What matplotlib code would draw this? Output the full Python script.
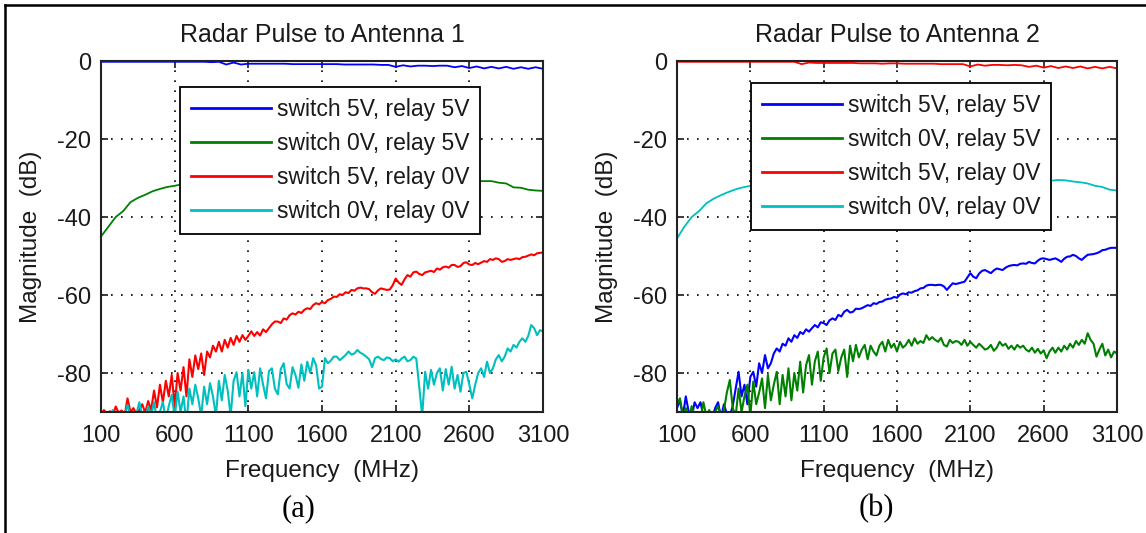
import numpy as np
import matplotlib
matplotlib.use("Agg")
import matplotlib.pyplot as plt
from matplotlib.lines import Line2D

plt.rcParams["font.family"] = ["Liberation Sans", "DejaVu Sans"]
plt.rcParams["axes.unicode_minus"] = False

# ---------------- data ----------------
freq_fine = np.arange(100, 3101, 20)     # MHz, sampling for noisy traces
freq_coarse = np.arange(100, 3101, 50)   # MHz, sampling for smooth traces

x_ticks = [100, 600, 1100, 1600, 2100, 2600, 3100]
x_tick_labels = ["100", "600", "1100", "1600", "2100", "2600", "3100"]
y_ticks = [-80, -60, -40, -20, 0]
y_tick_labels = ["-80", "-60", "-40", "-20", "0"]

legend_labels = ["switch 5V, relay 5V", "switch 0V, relay 5V",
                 "switch 5V, relay 0V", "switch 0V, relay 0V"]
titles = ["Radar Pulse to Antenna 1", "Radar Pulse to Antenna 2"]
panel_tags = ["(a)", "(b)"]

# ---- panel (a): Radar pulse to antenna 1 ----
a_s5_r5 = [  # coarse
    -0.2, -0.2, -0.2, -0.2, -0.2, -0.2, -0.2, -0.2, -0.2, -0.2,
    -0.2, -0.2, -0.2, -0.2, -0.2, -0.3, -0.2, -0.9, -0.4, -0.9,
    -0.7, -0.7, -0.7, -0.7, -0.7, -0.7, -0.8, -0.8, -0.8, -0.8,
    -0.8, -0.8, -0.8, -0.9, -0.9, -0.9, -0.9, -0.9, -1.0, -1.0,
    -1.5, -1.1, -1.4, -1.2, -1.2, -1.3, -1.2, -1.2, -1.6, -1.3,
    -1.8, -1.4, -1.9, -1.5, -1.9, -1.5, -2.0, -1.6, -2.0, -1.6,
    -2.0]
a_s0_r5 = [  # coarse
    -45.0, -42.5, -40.0, -38.5, -36.2, -35.1, -34.3, -33.4, -32.8, -32.3,
    -32.0, -31.6, -31.3, -31.0, -30.8, -30.6, -30.4, -30.2, -30.0, -29.9,
    -29.8, -29.7, -29.6, -29.5, -29.4, -29.4, -29.3, -29.3, -29.2, -29.2,
    -29.2, -29.2, -29.2, -29.2, -29.3, -29.3, -29.4, -29.4, -29.5, -29.6,
    -29.7, -29.8, -29.9, -30.0, -30.1, -30.2, -30.3, -30.4, -30.5, -30.6,
    -30.7, -30.8, -30.8, -30.8, -31.2, -31.4, -32.4, -32.5, -33.0, -33.2,
    -33.3]
a_s5_r0 = [  # fine
    -90.5, -89.5, -90.5, -89.8, -91.0, -88.6, -90.2, -89.6, -91.0, -86.5,
    -90.0, -89.0, -90.5, -89.5, -88.0, -90.2, -87.2, -89.5, -84.5, -88.8,
    -83.0, -87.5, -82.0, -86.0, -80.5, -88.5, -80.0, -84.5, -78.5, -86.0,
    -76.5, -81.0, -75.5, -79.0, -75.0, -80.5, -74.5, -76.0, -73.0, -74.5,
    -72.0, -74.5, -71.5, -73.5, -71.0, -72.8, -70.5, -72.0, -70.3, -71.5,
    -70.5, -69.3, -70.5, -69.5, -70.4, -68.8, -69.5, -68.5, -67.5, -66.8,
    -66.8, -67.2, -66.0, -66.3, -65.2, -64.7, -65.0, -64.3, -64.6, -63.8,
    -63.4, -63.6, -62.6, -62.1, -62.4, -61.8, -62.1, -61.3, -61.0, -60.4,
    -60.5, -59.8, -60.0, -59.3, -59.5, -58.7, -58.9, -58.3, -58.1, -58.3,
    -58.3, -58.5, -59.3, -59.7, -58.8, -58.3, -58.5, -58.7, -58.6, -57.5,
    -55.8, -56.8, -57.4, -56.0, -54.9, -55.3, -54.2, -54.0, -54.6, -54.9,
    -54.2, -54.0, -53.8, -54.1, -53.2, -53.5, -52.9, -52.7, -53.0, -52.3,
    -52.3, -52.8, -52.6, -51.8, -51.6, -52.2, -52.3, -51.8, -52.1, -51.7,
    -51.3, -51.5, -50.8, -51.0, -50.6, -50.8, -51.5, -51.3, -50.8, -51.0,
    -50.8, -50.6, -50.8, -50.3, -50.2, -49.9, -49.6, -49.8, -49.3, -49.2,
    -49.1]
a_s0_r0 = [  # fine
    -91.0, -92.0, -90.5, -91.5, -89.5, -91.0, -92.0, -90.5, -91.0, -88.2,
    -91.0, -92.0, -90.5, -87.5, -91.0, -92.0, -88.5, -91.0, -87.5, -92.0,
    -90.0, -87.4, -92.0, -88.5, -85.6, -91.5, -84.8, -90.0, -86.0, -93.0,
    -84.0, -88.0, -83.0, -86.5, -91.0, -83.5, -88.0, -82.6, -86.0, -91.0,
    -82.0, -87.0, -80.5, -84.5, -91.0, -82.0, -79.8, -86.0, -80.0, -88.5,
    -79.2, -84.0, -79.8, -86.0, -78.8, -83.0, -86.5, -79.5, -78.8, -84.0,
    -85.5, -79.0, -77.5, -82.8, -84.0, -78.5, -80.5, -83.8, -77.8, -82.0,
    -77.1, -80.0, -76.2, -78.0, -84.0, -83.5, -76.2, -77.5, -76.8, -75.8,
    -75.8, -76.7, -76.1, -75.4, -74.5, -75.3, -75.0, -74.1, -74.8, -75.2,
    -75.8, -76.5, -78.5, -76.2, -75.8, -76.4, -76.7, -76.0, -76.2, -77.0,
    -76.5, -77.1, -76.3, -75.8, -77.0, -76.7, -75.8, -76.3, -83.5, -91.0,
    -79.7, -84.0, -79.2, -83.0, -80.0, -78.8, -84.5, -79.0, -83.0, -78.4,
    -84.0, -80.5, -84.8, -80.0, -79.7, -83.0, -86.5, -83.0, -80.0, -78.8,
    -81.0, -77.1, -80.0, -78.8, -76.5, -75.4, -77.0, -75.8, -73.7, -74.5,
    -72.8, -73.5, -72.0, -71.1, -72.0, -70.5, -67.7, -68.5, -70.3, -69.0,
    -69.4]

# ---- panel (b): Radar pulse to antenna 2 ----
b_s5_r5 = [  # fine
    -89.0, -87.0, -91.0, -86.0, -90.0, -91.5, -87.5, -89.0, -87.5, -91.0,
    -92.0, -90.0, -91.5, -89.0, -87.5, -91.5, -88.0, -90.5, -91.0, -88.5,
    -84.0, -79.7, -86.0, -83.0, -88.0, -81.0, -79.7, -83.5, -77.5, -80.0,
    -75.4, -78.8, -77.5, -75.0, -73.7, -74.5, -72.5, -73.0, -71.1, -72.0,
    -70.3, -71.0, -69.5, -70.0, -68.8, -69.4, -68.5, -67.7, -68.3, -67.0,
    -67.2, -67.7, -66.5, -66.0, -66.4, -65.1, -65.5, -64.3, -63.8, -64.5,
    -64.3, -63.5, -63.6, -63.4, -63.0, -62.6, -62.8, -62.1, -62.3, -61.8,
    -61.7, -61.2, -61.0, -60.9, -60.5, -60.7, -59.9, -59.6, -59.8, -59.3,
    -59.4, -59.0, -58.8, -58.3, -58.2, -57.6, -57.4, -57.4, -57.5, -57.4,
    -57.4, -57.8, -58.7, -57.8, -57.0, -57.2, -57.0, -56.8, -56.6, -55.5,
    -54.4, -55.3, -55.7, -54.5, -53.8, -53.6, -54.0, -54.4, -53.7, -53.2,
    -53.4, -53.6, -53.0, -52.6, -52.4, -52.3, -52.4, -52.0, -51.9, -52.0,
    -51.5, -51.8, -51.9, -51.2, -50.7, -50.6, -50.8, -51.0, -50.8, -50.6,
    -51.0, -51.5, -50.7, -50.2, -50.1, -49.7, -50.0, -50.6, -51.0, -50.3,
    -49.7, -49.6, -49.5, -49.3, -49.0, -48.5, -48.4, -48.1, -47.9, -47.9,
    -47.9]
b_s0_r5 = [  # fine
    -88.0, -86.5, -91.0, -89.0, -92.0, -88.5, -91.0, -90.5, -92.0, -87.5,
    -91.0, -89.5, -92.0, -90.0, -88.5, -91.0, -89.5, -85.0, -81.8, -89.0,
    -91.0, -84.0, -90.0, -86.0, -83.0, -91.0, -82.2, -88.0, -85.0, -81.4,
    -89.0, -80.5, -87.0, -83.0, -79.7, -88.0, -80.5, -86.0, -78.8, -87.0,
    -80.0, -84.5, -77.1, -85.0, -78.0, -75.4, -83.0, -77.0, -74.5, -82.0,
    -76.0, -73.7, -80.0, -75.0, -74.0, -79.5, -76.0, -74.0, -81.0, -73.0,
    -77.0, -72.8, -76.0, -74.0, -72.8, -76.5, -73.0, -74.5, -75.5, -73.0,
    -72.0, -74.5, -71.5, -73.5, -72.5, -74.5, -72.0, -73.5, -72.8, -71.5,
    -73.0, -71.1, -72.5, -71.8, -72.3, -70.3, -71.5, -70.8, -71.5, -72.0,
    -71.0, -72.8, -73.2, -71.5, -72.3, -71.8, -72.0, -72.8, -71.5, -73.0,
    -72.0, -72.8, -73.5, -72.5, -73.2, -74.0, -73.7, -72.8, -74.3, -73.5,
    -72.0, -73.0, -72.5, -73.8, -73.0, -74.0, -72.8, -73.5, -73.0, -74.0,
    -74.5, -73.5, -74.8, -73.8, -75.0, -74.2, -76.2, -74.5, -73.5, -74.8,
    -73.5, -74.5, -73.0, -74.0, -72.5, -73.5, -71.8, -72.8, -71.5, -72.5,
    -69.8, -71.5, -72.5, -75.8, -74.0, -72.5, -75.5, -74.0, -76.0, -74.5,
    -75.0]
b_s5_r0 = [  # coarse
    -0.2, -0.2, -0.2, -0.2, -0.2, -0.2, -0.2, -0.2, -0.2, -0.2,
    -0.2, -0.2, -0.2, -0.2, -0.2, -0.2, -0.2, -0.8, -0.4, -0.5,
    -0.5, -0.5, -0.5, -0.5, -0.5, -0.6, -0.6, -0.6, -0.7, -0.6,
    -0.6, -0.7, -0.7, -0.7, -0.7, -0.7, -0.8, -0.8, -0.8, -0.8,
    -1.4, -0.9, -1.2, -1.0, -1.0, -1.1, -1.0, -1.1, -1.5, -1.2,
    -1.7, -1.3, -1.8, -1.4, -1.8, -1.4, -1.9, -1.5, -1.9, -1.5,
    -1.9]
b_s0_r0 = [  # coarse
    -45.5, -42.5, -40.0, -38.5, -36.5, -35.3, -34.4, -33.6, -32.9, -32.4,
    -32.0, -31.6, -31.3, -31.0, -30.8, -30.6, -30.4, -30.2, -30.0, -29.9,
    -29.8, -29.7, -29.6, -29.5, -29.4, -29.4, -29.3, -29.3, -29.2, -29.2,
    -29.2, -29.2, -29.2, -29.2, -29.3, -29.3, -29.4, -29.4, -29.5, -29.6,
    -29.7, -29.8, -29.9, -30.0, -30.1, -30.2, -30.3, -30.4, -30.5, -30.6,
    -30.6, -30.7, -30.5, -30.6, -30.9, -31.1, -31.4, -32.0, -32.3, -33.0,
    -33.2]

colors = ["#0000FF", "#008000", "#FF0000", "#00BFBF"]

panels = [
    [(freq_coarse, a_s5_r5), (freq_coarse, a_s0_r5), (freq_fine, a_s5_r0), (freq_fine, a_s0_r0)],
    [(freq_fine, b_s5_r5), (freq_fine, b_s0_r5), (freq_coarse, b_s5_r0), (freq_coarse, b_s0_r0)],
]

W, H = 1146, 533
fig = plt.figure(figsize=(W / 100, H / 100), dpi=100)
fig.patch.set_facecolor("white")

axes_px = [(101, 412, 442, 351), (677, 412, 440, 351)]  # left, bottom(from top), w, h
legend_anchor = [(0.179, 0.926), (0.168, 0.937)]
tag_pos = [(298.6, 509), (876, 509)]
ink = "#1a1a1a"

for k in range(2):
    l, btm, w, h = axes_px[k]
    ax = fig.add_axes([l / W, (H - btm) / H, w / W, h / H])
    for (fx, vals), c, lab in zip(panels[k], colors, legend_labels):
        lw = 1.5 if len(fx) == len(freq_fine) else 1.3
        ax.plot(fx, vals, color=c, linewidth=lw, label=lab)
    ax.set_xlim(100, 3100)
    ax.set_ylim(-90, 0)
    ax.set_xticks(x_ticks)
    ax.set_xticklabels(x_tick_labels)
    ax.set_yticks(y_ticks)
    ax.set_yticklabels(y_tick_labels)
    ax.grid(True, color="black", linestyle=(0, (1, 5)), linewidth=1.2)
    ax.set_axisbelow(True)
    ax.tick_params(direction="in", top=True, right=True, length=5, width=1.2,
                   labelsize=17, colors=ink)
    ax.tick_params(axis="x", pad=9)
    ax.tick_params(axis="y", pad=7)
    for s in ax.spines.values():
        s.set_linewidth(1.5)
        s.set_color("#222222")
    ax.set_title(titles[k], fontsize=18, pad=14, color=ink)
    ax.set_xlabel("Frequency  (MHz)", fontsize=17.5, labelpad=10, color=ink)
    ax.set_ylabel("Magnitude  (dB)", fontsize=17.5, labelpad=11, color=ink)
    leg = ax.legend(loc="upper left", bbox_to_anchor=legend_anchor[k], borderaxespad=0,
                    fontsize=16.5, frameon=True, fancybox=False, edgecolor="black",
                    framealpha=1, handlelength=3.5, handletextpad=0.26,
                    labelspacing=0.48, borderpad=0.47)
    leg.get_frame().set_linewidth(1.3)
    for t in leg.get_texts():
        t.set_color(ink)
    for ln in leg.get_lines():
        ln.set_linewidth(2)
    fig.text(tag_pos[k][0] / W, 1 - tag_pos[k][1] / H, panel_tags[k],
             ha="center", va="center", fontsize=22, family="Liberation Serif")

# outer frame (top and left edges)
fig.add_artist(Line2D([5 / W, 1.0], [1 - 5 / H, 1 - 5 / H], transform=fig.transFigure,
                      color="black", linewidth=1.8))
fig.add_artist(Line2D([5 / W, 5 / W], [0.0, 1 - 5 / H], transform=fig.transFigure,
                      color="black", linewidth=1.8))

fig.savefig("out.png", dpi=100)
